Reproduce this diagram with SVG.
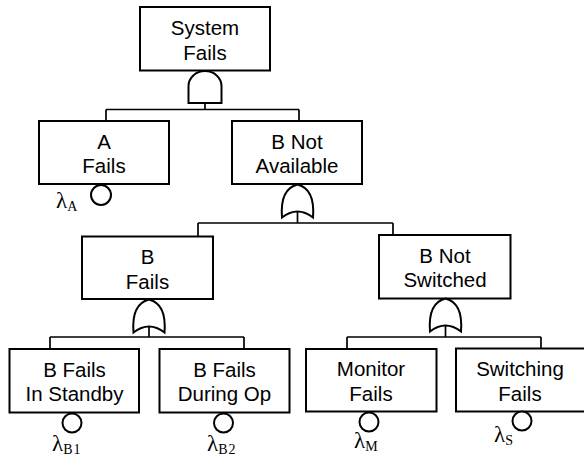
<svg xmlns="http://www.w3.org/2000/svg" width="584" height="464" viewBox="0 0 584 464">
  <style>
    .box { fill: #fff; stroke: #000; stroke-width: 2; }
    .lbl { font-family: "Liberation Sans", Arial, sans-serif; font-size: 20.5px; text-anchor: middle; fill: #000; }
    .gate { fill: #fff; stroke: #000; stroke-width: 2; stroke-linejoin: miter; }
    .basic { fill: #fff; stroke: #000; stroke-width: 2; }
    .wire { fill: none; stroke: #000; stroke-width: 1.7; }
    .lam { font-family: "Liberation Serif", "Times New Roman", serif; font-size: 23px; fill: #000; }
    .sub { font-size: 14px; letter-spacing: 1px; }
  </style>
  <defs>
    <!-- gate outlines, origin at the top centre -->
    <path id="and-gate" d="M-16.5,32 V15 A16.5,15 0 0 1 16.5,15 V32 Z"/>
    <path id="or-gate" d="M-15.5,33 C-17,14 -12,3 0,0 C12,3 17,14 15.5,33 Q0,21 -15.5,33 Z"/>
  </defs>

  <!-- connectors: gate stems, busses and drops to child events -->
  <g id="connectors" class="wire">
    <path d="M205,103 V109.5 M106,109.5 H299 M106,109.5 V121 M299,109.5 V121"/>
    <path d="M297.5,211 V223 M198,223 H393 M198,223 V236.5 M393,223 V235"/>
    <path d="M149,326 V337 M50,337 H244 M50,337 V349 M244,337 V349"/>
    <path d="M445.5,325 V337 M347,337 H541 M347,337 V349 M541,337 V348.5"/>
  </g>

  <g id="system-fails">
    <rect class="box" x="140" y="7" width="130" height="63.5"/>
    <text class="lbl" x="205" y="35">System</text>
    <text class="lbl" x="205" y="60">Fails</text>
    <use href="#and-gate" class="gate" transform="translate(205,71)"/>
  </g>

  <g id="a-fails">
    <rect class="box" x="39" y="121" width="130" height="63"/>
    <text class="lbl" x="104" y="148.5">A</text>
    <text class="lbl" x="104" y="173">Fails</text>
    <circle class="basic" cx="101" cy="195" r="10"/>
    <text class="lam" x="56" y="208">λ<tspan class="sub" dy="3">A</tspan></text>
  </g>

  <g id="b-not-available">
    <rect class="box" x="232" y="121" width="130" height="63"/>
    <text class="lbl" x="297" y="148.5">B Not</text>
    <text class="lbl" x="297" y="173">Available</text>
    <use href="#or-gate" class="gate" transform="translate(297.5,184.5)"/>
  </g>

  <g id="b-fails">
    <rect class="box" x="82" y="236.5" width="131" height="62.5"/>
    <text class="lbl" x="147.5" y="264">B</text>
    <text class="lbl" x="147.5" y="288.5">Fails</text>
    <use href="#or-gate" class="gate" transform="translate(149,299.5)"/>
  </g>

  <g id="b-not-switched">
    <rect class="box" x="379" y="235" width="131.5" height="63.5"/>
    <text class="lbl" x="445" y="262.5">B Not</text>
    <text class="lbl" x="445" y="287">Switched</text>
    <use href="#or-gate" class="gate" transform="translate(445.5,298.5)"/>
  </g>

  <g id="b-fails-standby">
    <rect class="box" x="9.5" y="349" width="129.5" height="63.5"/>
    <text class="lbl" x="74.5" y="376.5">B Fails</text>
    <text class="lbl" x="74.5" y="401">In Standby</text>
    <circle class="basic" cx="72" cy="423" r="9.5"/>
    <text class="lam" x="52" y="451">λ<tspan class="sub" dy="3">B1</tspan></text>
  </g>

  <g id="b-fails-operating">
    <rect class="box" x="159.5" y="349" width="130" height="63.5"/>
    <text class="lbl" x="224.5" y="376.5">B Fails</text>
    <text class="lbl" x="224.5" y="401">During Op</text>
    <circle class="basic" cx="223.5" cy="423" r="9.5"/>
    <text class="lam" x="207" y="451">λ<tspan class="sub" dy="3">B2</tspan></text>
  </g>

  <g id="monitor-fails">
    <rect class="box" x="306" y="349" width="130.5" height="62.5"/>
    <text class="lbl" x="371" y="376">Monitor</text>
    <text class="lbl" x="371" y="400.5">Fails</text>
    <circle class="basic" cx="369" cy="422" r="9.5"/>
    <text class="lam" x="354" y="447.5">λ<tspan class="sub" dy="3">M</tspan></text>
  </g>

  <g id="switching-fails">
    <rect class="box" x="456" y="348.5" width="131" height="63"/>
    <text class="lbl" x="520" y="376">Switching</text>
    <text class="lbl" x="520" y="400.5">Fails</text>
    <circle class="basic" cx="522" cy="421" r="9.5"/>
    <text class="lam" x="494" y="441.5">λ<tspan class="sub" dy="3">S</tspan></text>
  </g>
</svg>
